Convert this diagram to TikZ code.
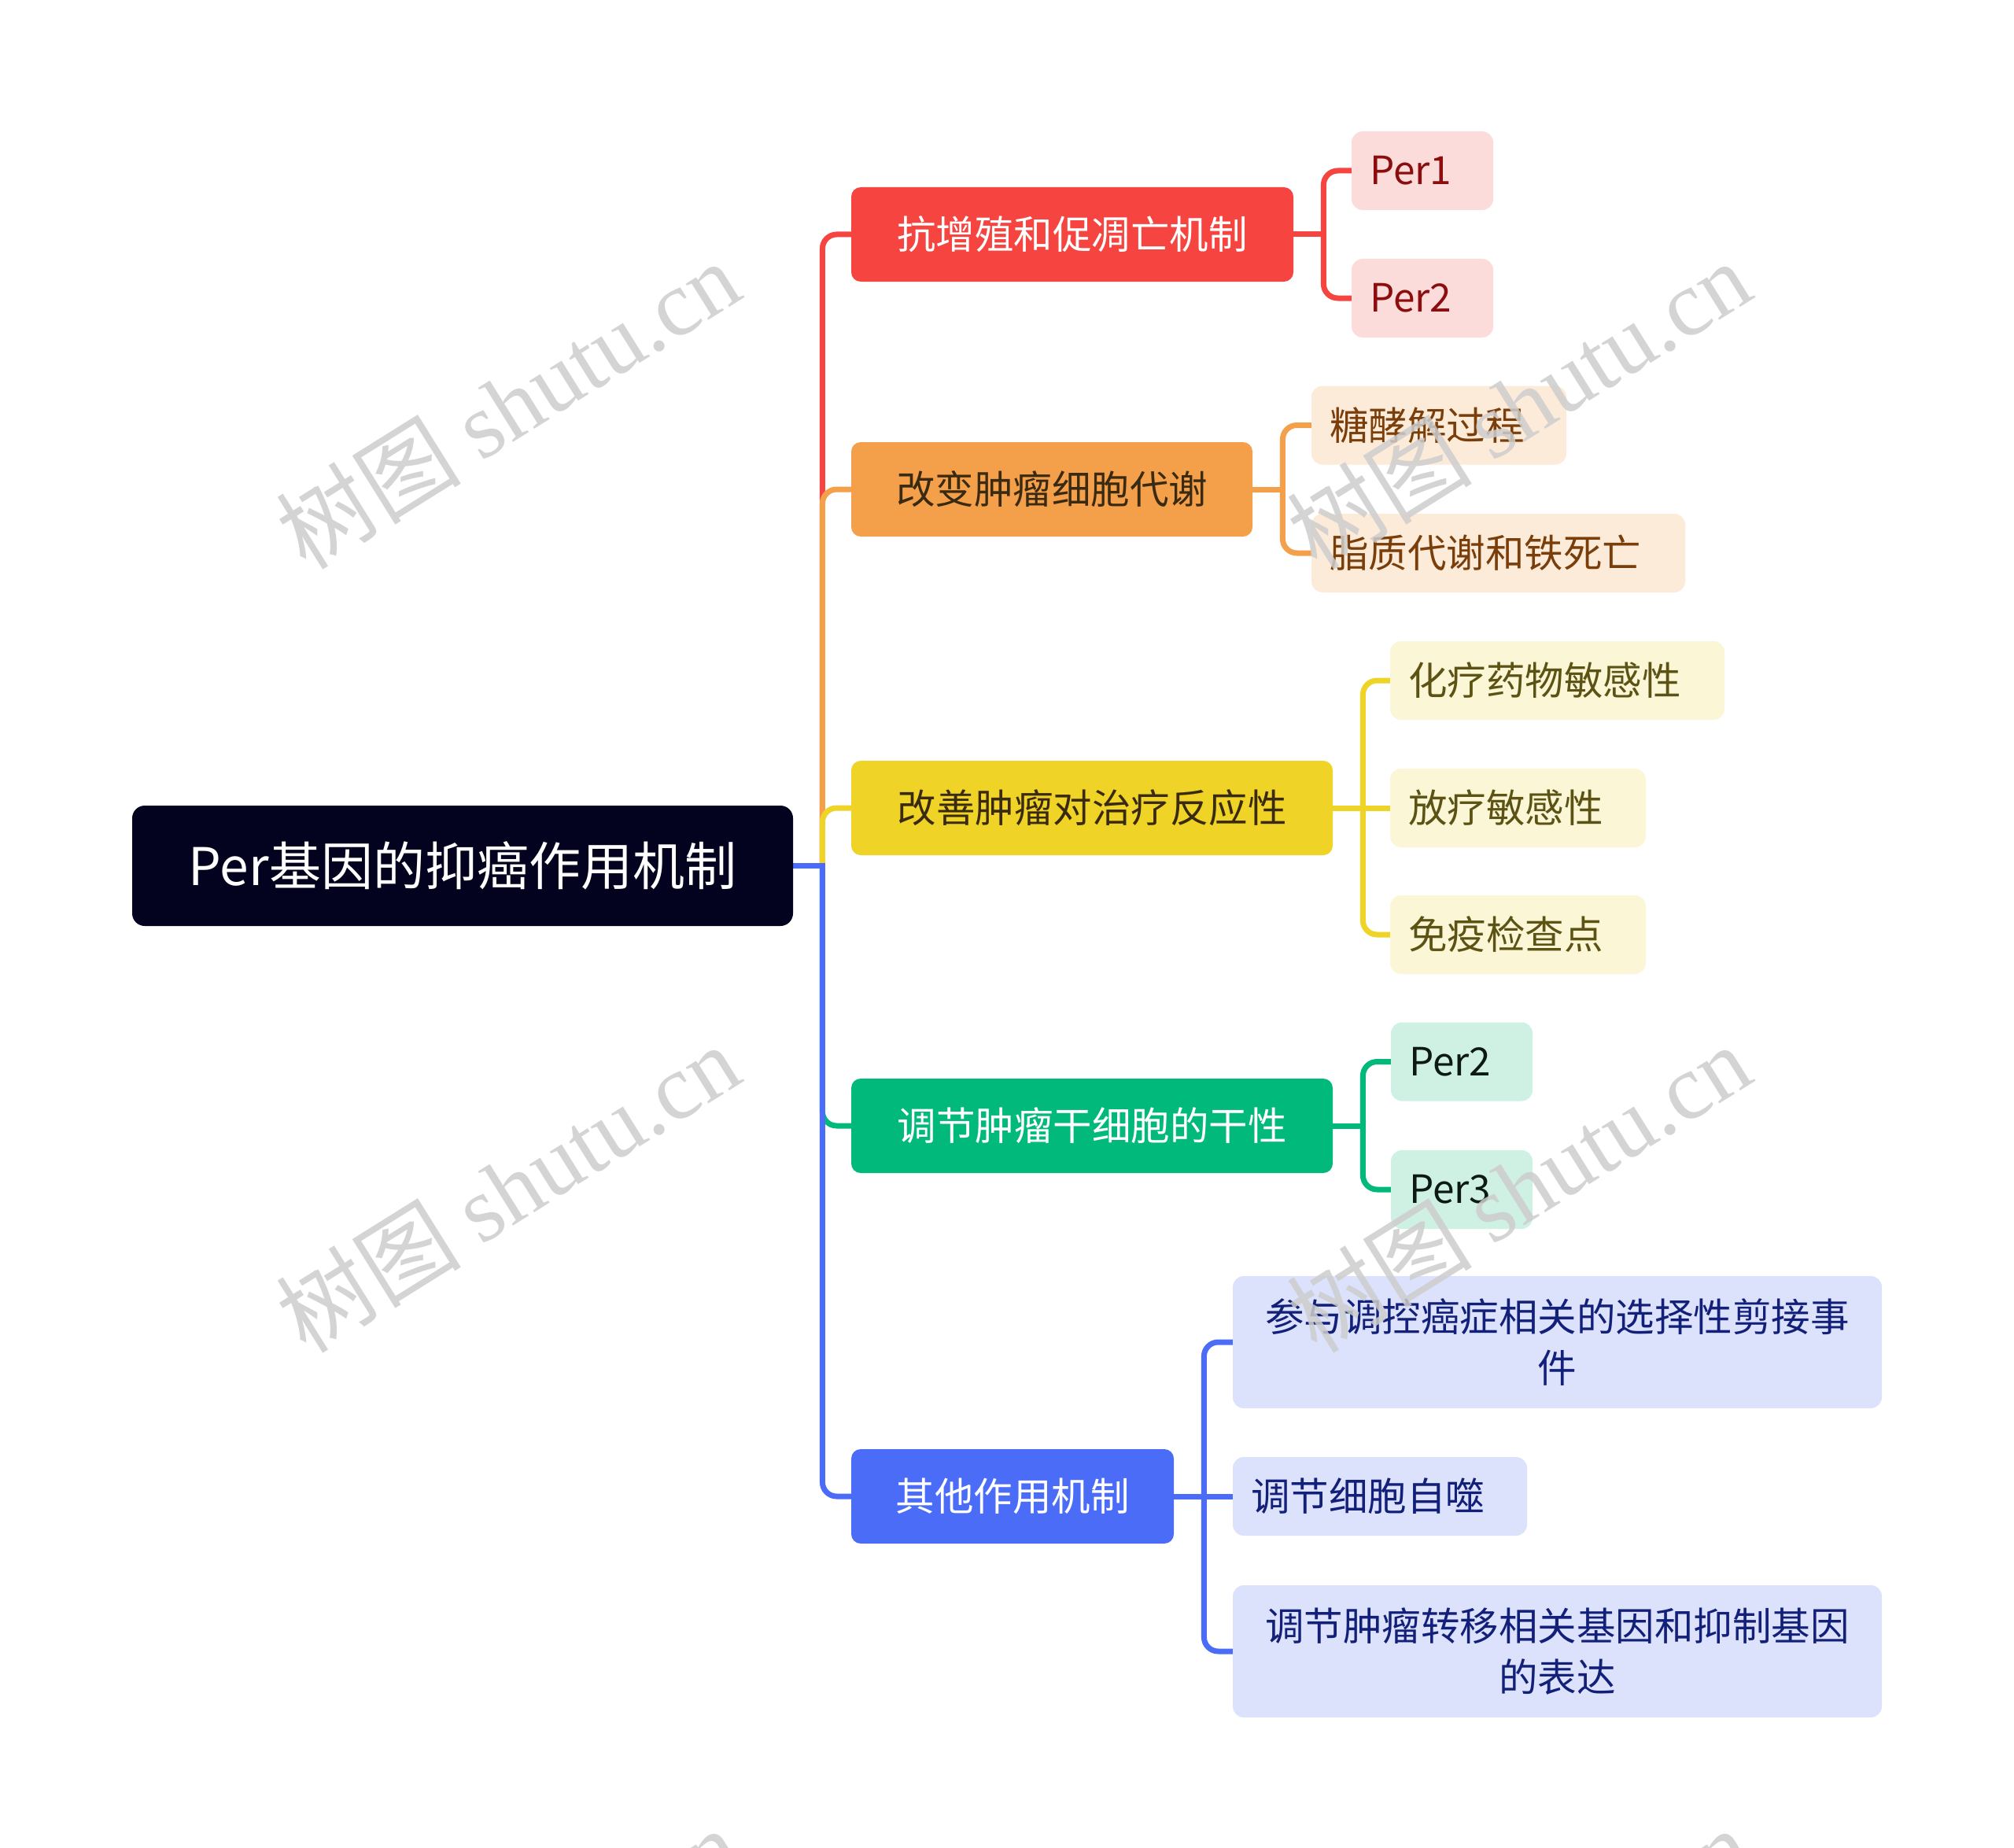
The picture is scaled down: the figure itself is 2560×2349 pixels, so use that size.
\documentclass[tikz,border=0pt]{standalone}
\usepackage{fontspec}
\setmainfont{Noto Sans CJK SC}
\newfontfamily\wmlatin{Liberation Serif}
\definecolor{rootc}{HTML}{03031F}
\definecolor{cred}{HTML}{F64440}
\definecolor{corange}{HTML}{F4A04B}
\definecolor{cyellow}{HTML}{EFD326}
\definecolor{cgreen}{HTML}{00B97A}
\definecolor{cblue}{HTML}{4A6CF7}
\definecolor{fred}{HTML}{FCDCDB}
\definecolor{tred}{HTML}{8B0D0D}
\definecolor{forange}{HTML}{FDEBDA}
\definecolor{torange}{HTML}{7A3E0A}
\definecolor{fyellow}{HTML}{FBF6D6}
\definecolor{tyellow}{HTML}{5B5214}
\definecolor{fgreen}{HTML}{CFF1E4}
\definecolor{tgreen}{HTML}{0D1A14}
\definecolor{fblue}{HTML}{DCE2FB}
\definecolor{tblue}{HTML}{13207A}
\definecolor{darktxt}{HTML}{3A2A12}
\definecolor{wmc}{HTML}{CDCDCD}
\pgfdeclarelayer{bg}
\pgfsetlayers{bg,main}
\begin{document}
\begin{tikzpicture}[x=0.5pt,y=-0.5pt,
  conn/.style={line width=3.5pt, rounded corners=9pt, line cap=rect},
  stub/.style={line width=3.5pt},
  txt/.style={font=\fontsize{24.75pt}{32.5pt}\selectfont},
  lvone/.style={txt, rounded corners=6pt, inner sep=0pt, align=center, minimum height=60pt},
  lvtwo/.style={txt, rounded corners=7pt, inner xsep=11.5pt, inner ysep=0pt, align=left, minimum height=50pt},
  lvmulti/.style={txt, rounded corners=7pt, inner sep=0pt, align=center, text width=412.5pt, minimum height=84pt},
  wm/.style={text=wmc, opacity=0.85, rotate=32, font=\fontsize{59pt}{60pt}\selectfont, inner sep=0pt}]
\begin{pgfonlayer}{bg}
\fill[white] (0,0) rectangle (2560,2349);
\end{pgfonlayer}
\path[use as bounding box] (0,0) rectangle (2560,2349);
\clip (0,0) rectangle (2560,2349);

% root
\node[fill=rootc, text=white, rounded corners=8pt, minimum width=420pt, minimum height=76.5pt, inner sep=0pt,
  font=\fontsize{33pt}{38pt}\selectfont] (root) at (588,1100.5) {Per基因的抑癌作用机制};

% level one
\node[lvone, fill=cred, text=white, minimum width=281pt] (b1) at (1363,298) {抗增殖和促凋亡机制};
\node[lvone, fill=corange, text=darktxt, minimum width=255pt] (b2) at (1337,622) {改变肿瘤细胞代谢};
\node[lvone, fill=cyellow, text=darktxt, minimum width=306pt] (b3) at (1388,1027) {改善肿瘤对治疗反应性};
\node[lvone, fill=cgreen, text=white, minimum width=306pt] (b4) at (1388,1431) {调节肿瘤干细胞的干性};
\node[lvone, fill=cblue, text=white, minimum width=205pt] (b5) at (1287,1902) {其他作用机制};

% level two
\node[lvtwo, fill=fred, text=tred, text width=67pt] (c11) at (1808,217) {Per1};
\node[lvtwo, fill=fred, text=tred, text width=67pt] (c12) at (1808,379) {Per2};
\node[lvtwo, fill=forange, text=torange, text width=139pt] (c21) at (1829,540.5) {糖酵解过程};
\node[lvtwo, fill=forange, text=torange, text width=214.5pt] (c22) at (1904.5,703) {脂质代谢和铁死亡};
\node[lvtwo, fill=fyellow, text=tyellow, text width=189.5pt] (c31) at (1979.5,865) {化疗药物敏感性};
\node[lvtwo, fill=fyellow, text=tyellow, text width=139.5pt] (c32) at (1929.5,1027) {放疗敏感性};
\node[lvtwo, fill=fyellow, text=tyellow, text width=139.5pt] (c33) at (1929.5,1188) {免疫检查点};
\node[lvtwo, fill=fgreen, text=tgreen, text width=67pt] (c41) at (1858,1349.5) {Per2};
\node[lvtwo, fill=fgreen, text=tgreen, text width=67pt] (c42) at (1858,1512) {Per3};
\node[lvmulti, fill=fblue, text=tblue] (c51) at (1979.5,1706) {参与调控癌症相关的选择性剪接事\\件};
\node[lvtwo, fill=fblue, text=tblue, text width=164pt] (c52) at (1754,1902) {调节细胞自噬};
\node[lvmulti, fill=fblue, text=tblue] (c53) at (1979.5,2099) {调节肿瘤转移相关基因和抑制基因\\的表达};

% junction points
\path (root.east) ++(37,0) coordinate (j0);
\path (b1.east) ++(38,0) coordinate (j1);
\path (b2.east) ++(38,0) coordinate (j2);
\path (b3.east) ++(38,0) coordinate (j3);
\path (b4.east) ++(38,0) coordinate (j4);
\path (b5.east) ++(38,0) coordinate (j5);

\begin{pgfonlayer}{bg}
% level one connectors
\draw[conn, cred] (j0) |- (b1.west);
\draw[conn, corange] (j0) |- (b2.west);
\draw[conn, cyellow] (j0) |- (b3.west);
\draw[conn, cgreen] (j0) |- (b4.west);
\draw[conn, cblue] (j0) |- (b5.west);
\draw[stub, cblue] (root.east) -- (j0);

% level two connectors
\draw[conn, cred] (j1) |- (c11.west);
\draw[conn, cred] (j1) |- (c12.west);
\draw[stub, cred] (b1.east) -- (j1);
\draw[conn, corange] (j2) |- (c21.west);
\draw[conn, corange] (j2) |- (c22.west);
\draw[stub, corange] (b2.east) -- (j2);
\draw[conn, cyellow] (j3) |- (c31.west);
\draw[conn, cyellow] (j3) |- (c33.west);
\draw[stub, cyellow] (b3.east) -- (c32.west);
\draw[conn, cgreen] (j4) |- (c41.west);
\draw[conn, cgreen] (j4) |- (c42.west);
\draw[stub, cgreen] (b4.east) -- (j4);
\draw[conn, cblue] (j5) |- (c51.west);
\draw[conn, cblue] (j5) |- (c53.west);
\draw[stub, cblue] (b5.east) -- (c52.west);
\end{pgfonlayer}

% watermarks
\node[wm] (w1) at (645,514) {树图 {\wmlatin shutu.cn}};
\node[wm] (w2) at (1930,514) {树图 {\wmlatin shutu.cn}};
\node[wm] (w3) at (645,1510) {树图 {\wmlatin shutu.cn}};
\node[wm] (w4) at (1930,1510) {树图 {\wmlatin shutu.cn}};
\node[wm] (w5) at (645,2506) {树图 {\wmlatin shutu.cn}};
\node[wm] (w6) at (1930,2506) {树图 {\wmlatin shutu.cn}};
\end{tikzpicture}
\end{document}
